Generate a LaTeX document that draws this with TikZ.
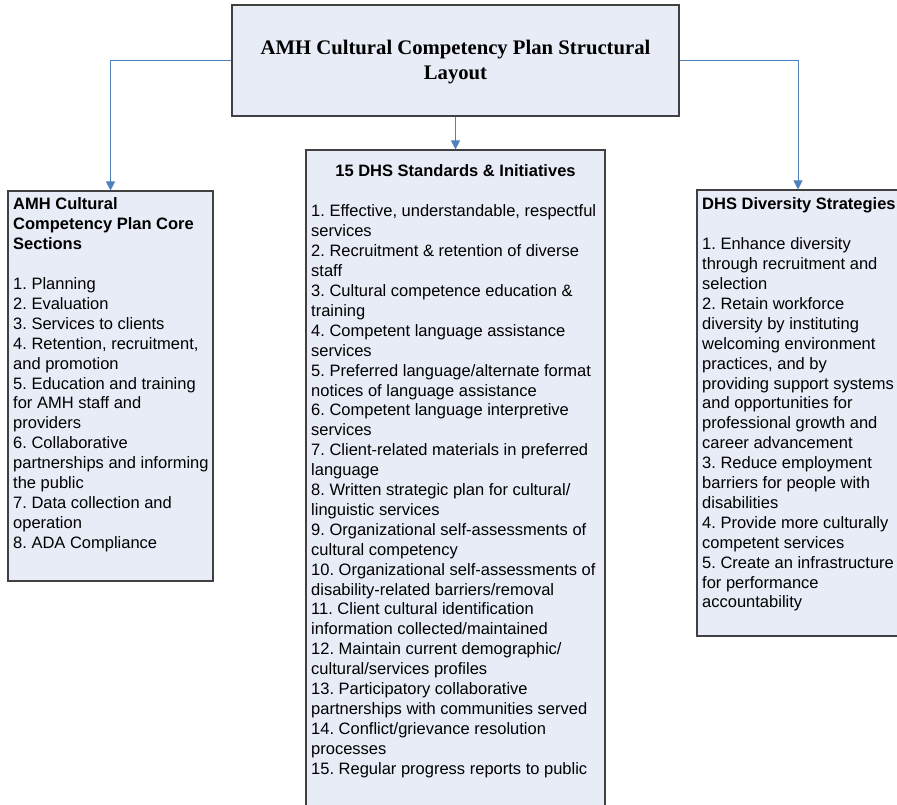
\documentclass[tikz,border=0pt]{standalone}
\usepackage{fontspec}
\setmainfont{Liberation Sans}
\newfontfamily\titlefont{Liberation Serif}
\usetikzlibrary{arrows.meta,shadows}
\frenchspacing
\definecolor{boxfill}{RGB}{231,236,247}
\definecolor{boxline}{RGB}{64,64,64}
\definecolor{connblue}{RGB}{79,129,189}
\newcommand{\leftstack}[1]{\vtop{\frenchspacing\baselineskip=19.9pt\lineskiplimit=-50pt\lineskip=0pt\halign{##\hfil\cr #1\crcr}}}
\newcommand{\centerstack}[1]{\vtop{\baselineskip=24.8pt\lineskiplimit=-50pt\lineskip=0pt\halign{\hfil##\hfil\cr #1\crcr}}}
\tikzset{
  panel/.style={draw=boxline, line width=1.1pt, fill=boxfill, inner sep=0pt,
    drop shadow={shadow xshift=1.2pt, shadow yshift=-1.2pt, fill=gray!75, opacity=1}},
  bodytext/.style={anchor=base west, inner sep=0pt, font=\fontsize{16.5}{19.9}\selectfont},
  conn/.style={draw=connblue, line width=1pt, -{Triangle[length=9pt,width=9pt]}}
}
\begin{document}
\begin{tikzpicture}[x=1pt,y=-1pt]
\useasboundingbox (0,0) rectangle (897,805);
% boxes
\node[panel, minimum width=447pt, minimum height=111pt] (top) at (455.5,60.5) {};
\node[panel, minimum width=205pt, minimum height=390pt] (left) at (110.5,386) {};
\node[panel, minimum width=299pt, minimum height=680pt] (mid) at (455.5,490) {};
\node[panel, minimum width=202pt, minimum height=446pt] (right) at (798,413) {};
% connectors
\draw[conn] (top.west) -| (left.north);
\draw[conn] (top.east) -| (right.north);
\draw[conn] (top.south) -- (mid.north);
% title
\node[anchor=base, inner sep=0pt, font=\titlefont\bfseries\fontsize{20.7}{24.8}\selectfont] (titletext) at (455.5,54.3)
  {\centerstack{AMH Cultural Competency Plan Structural\cr Layout}};
% left text
\node[bodytext] (lefttext) at (13,210) {\leftstack{%
\bfseries AMH Cultural\cr
\bfseries Competency Plan Core\cr
\bfseries Sections\cr
\cr
1. Planning\cr
2. Evaluation\cr
3. Services to clients\cr
4. Retention, recruitment,\cr
and promotion\cr
5. Education and training\cr
for AMH staff and\cr
providers\cr
6. Collaborative\cr
partnerships and informing\cr
the public\cr
7. Data collection and\cr
operation\cr
8. ADA Compliance}};
% middle text
\node[anchor=base, inner sep=0pt, font=\fontsize{16.5}{19.9}\selectfont\bfseries] (midtitle) at (455.5,177) {15 DHS Standards \& Initiatives};
\node[bodytext] (midtext) at (311,217) {\leftstack{%
1. Effective, understandable, respectful\cr
services\cr
2. Recruitment \& retention of diverse\cr
staff\cr
3. Cultural competence education \&\cr
training\cr
4. Competent language assistance\cr
services\cr
5. Preferred language/alternate format\cr
notices of language assistance\cr
6. Competent language interpretive\cr
services\cr
7. Client-related materials in preferred\cr
language\cr
8. Written strategic plan for cultural/\cr
linguistic services\cr
9. Organizational self-assessments of\cr
cultural competency\cr
10. Organizational self-assessments of\cr
disability-related barriers/removal\cr
11. Client cultural identification\cr
information collected/maintained\cr
12. Maintain current demographic/\cr
cultural/services profiles\cr
13. Participatory collaborative\cr
partnerships with communities served\cr
14. Conflict/grievance resolution\cr
processes\cr
15. Regular progress reports to public}};
% right text
\node[bodytext] (righttext) at (702,210) {\leftstack{%
\bfseries DHS Diversity Strategies\cr
\cr
1. Enhance diversity\cr
through recruitment and\cr
selection\cr
2. Retain workforce\cr
diversity by instituting\cr
welcoming environment\cr
practices, and by\cr
providing support systems\cr
and opportunities for\cr
professional growth and\cr
career advancement\cr
3. Reduce employment\cr
barriers for people with\cr
disabilities\cr
4. Provide more culturally\cr
competent services\cr
5. Create an infrastructure\cr
for performance\cr
accountability}};
\end{tikzpicture}
\end{document}
